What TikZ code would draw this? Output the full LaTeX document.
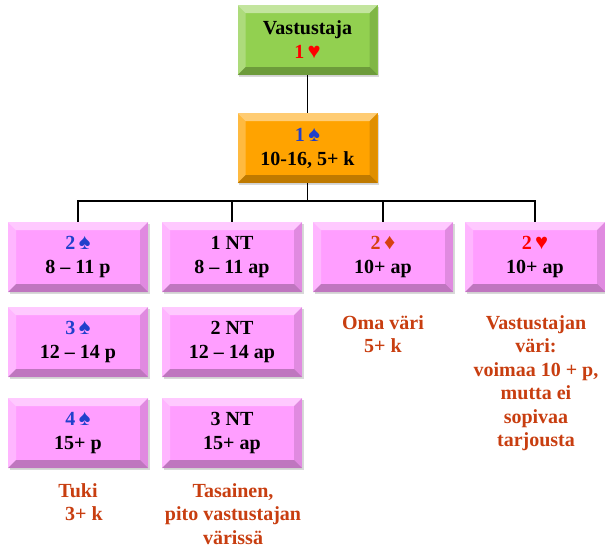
\documentclass[tikz,border=0pt]{standalone}
\usepackage{fontspec}
\setmainfont{Liberation Serif}
\usetikzlibrary{positioning, calc, shadows}

\definecolor{greenbox}{RGB}{146,208,80}
\definecolor{orangebox}{RGB}{255,163,0}
\definecolor{pinkbox}{RGB}{255,158,255}
\definecolor{spadeblue}{RGB}{32,64,204}
\definecolor{heartred}{RGB}{255,0,0}
\definecolor{diamred}{RGB}{214,64,16}
\definecolor{notered}{RGB}{200,62,16}

\newcommand{\suit}[3]{\textcolor{#1}{#2\,{\fontsize{22}{22}\selectfont #3}}}

\tikzset{
	bevelbox/.style={rectangle, minimum width=140pt, minimum height=70pt, inner sep=0pt,
		align=center, fill=#1, drop shadow={shadow xshift=1.5pt, shadow yshift=-1.5pt, opacity=.3},
		font=\fontsize{20}{24}\selectfont\bfseries,
		path picture={
			\def\bv{8pt}
			\fill[white, opacity=.45] (path picture bounding box.north west) -- (path picture bounding box.north east)
				-- ([xshift=-\bv, yshift=-\bv]path picture bounding box.north east) -- ([xshift=\bv, yshift=-\bv]path picture bounding box.north west) -- cycle;
			\fill[white, opacity=.25] (path picture bounding box.north west) -- (path picture bounding box.south west)
				-- ([xshift=\bv, yshift=\bv]path picture bounding box.south west) -- ([xshift=\bv, yshift=-\bv]path picture bounding box.north west) -- cycle;
			\fill[black, opacity=.12] (path picture bounding box.north east) -- (path picture bounding box.south east)
				-- ([xshift=-\bv, yshift=\bv]path picture bounding box.south east) -- ([xshift=-\bv, yshift=-\bv]path picture bounding box.north east) -- cycle;
			\fill[black, opacity=.25] (path picture bounding box.south west) -- (path picture bounding box.south east)
				-- ([xshift=-\bv, yshift=\bv]path picture bounding box.south east) -- ([xshift=\bv, yshift=\bv]path picture bounding box.south west) -- cycle;
		}},
	note/.style={align=center, text=notered, font=\fontsize{20}{23.5}\selectfont\bfseries},
	link/.style={line width=1.8pt}
}

\begin{document}
\begin{tikzpicture}[x=1pt, y=1pt]
	\useasboundingbox (0,0) rectangle (605,-549);
	
	\def\rowa{-257}
	\def\rowb{-342}
	\def\rowc{-433}
	
	% opening and overcall
	\node[bevelbox=greenbox] (open) at (307.5,-40) {Vastustaja\\\suit{heartred}{1}{♥}};
	\node[bevelbox=orangebox] (over) at (307.5,-148) {\suit{spadeblue}{1}{♠}\\10-16, 5+ k};
	
	% answers
	\node[bevelbox=pinkbox] (s2) at (78,\rowa) {\suit{spadeblue}{2}{♠}\\8 -- 11 p};
	\node[bevelbox=pinkbox] (s3) at (78,\rowb) {\suit{spadeblue}{3}{♠}\\12 -- 14 p};
	\node[bevelbox=pinkbox] (s4) at (78,\rowc) {\suit{spadeblue}{4}{♠}\\15+ p};
	
	\node[bevelbox=pinkbox] (nt1) at (232,\rowa) {1 NT\\8 -- 11 ap};
	\node[bevelbox=pinkbox] (nt2) at (232,\rowb) {2 NT\\12 -- 14 ap};
	\node[bevelbox=pinkbox] (nt3) at (232,\rowc) {3 NT\\15+ ap};
	
	\node[bevelbox=pinkbox] (d2) at (383,\rowa) {\suit{diamred}{2}{♦}\\10+ ap};
	\node[bevelbox=pinkbox] (h2) at (535,\rowa) {\suit{heartred}{2}{♥}\\10+ ap};
	
	% notes
	\node[note, anchor=north] (tuki) at (78,-480) {Tuki\\\hspace*{12pt}3+ k};
	\node[note, anchor=north] (tasa) at (233,-480) {Tasainen,\\pito vastustajan\\värissä};
	\node[note, anchor=north] (oma) at (383,-312) {Oma väri\\5+ k};
	\node[note, anchor=north] (vast) at (536,-312) {Vastustajan\\väri:\\voimaa 10 + p,\\mutta ei\\sopivaa\\tarjousta};
	
	% connectors
	\draw[link] (open.south) -- (over.north);
	\foreach \n in {s2, nt1, d2, h2}
	\draw[link] (over.south) -- ++(0,-18) -| (\n.north);
	
\end{tikzpicture}
\end{document}
